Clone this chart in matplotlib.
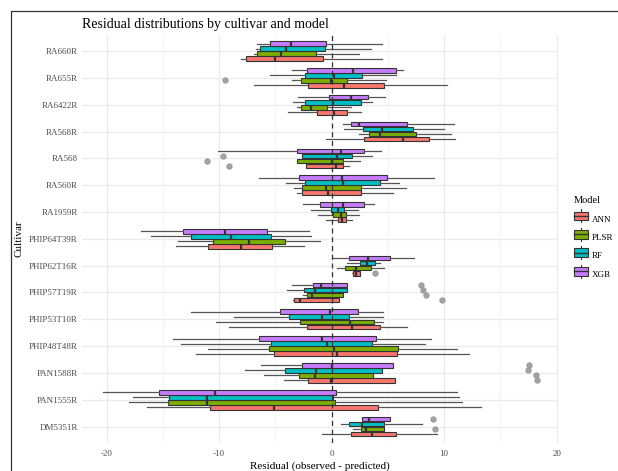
import matplotlib
matplotlib.use("Agg")
import matplotlib.pyplot as plt
from matplotlib.patches import Rectangle
from matplotlib.lines import Line2D
from matplotlib.legend_handler import HandlerBase
import numpy as np

plt.rcParams['font.family'] = ['Liberation Serif', 'DejaVu Serif']
plt.rcParams['axes.unicode_minus'] = False

# cultivars, top to bottom as shown
cultivars = ["RA660R", "RA655R", "RA6422R", "RA568R", "RA568", "RA560R", "RA1959R",
             "PHIP64T39R", "PHIP62T16R", "PHIP57T19R", "PHIP53T10R", "PHIP48T48R",
             "PAN1588R", "PAN1555R", "DM5351R"]
models = ["ANN", "PLSR", "RF", "XGB"]
colors = {"ANN": "#F8766D", "PLSR": "#7CAE00", "RF": "#00BFC4", "XGB": "#C77CFF"}

# box stats (residuals)
ann_lo  = [-8.09, -6.87, -3.85, -0.5, -2.28, -3.05, -0.5, -13.81, 1.78, -3.44, -9.10, -12.09, -4.24, -16.39, -0.9]
ann_q1  = [-7.61, -2.07, -1.33, 2.90, -2.28, -2.61, 0.53, -10.96, 1.93, -3.38, -2.16, -5.10, -2.13, -10.79, 1.72]
ann_med = [-5.04, 1.10, 0.20, 6.34, 0.41, -0.33, 0.92, -8.09, 2.15, -2.81, 1.78, 0.45, -0.02, -5.13, 3.56]
ann_q3  = [-0.80, 4.62, 1.33, 8.68, 1.04, 2.64, 1.27, -5.27, 2.55, 0.65, 4.27, 5.84, 5.63, 4.09, 5.75]
ann_hi  = [4.50, 10.22, 2.61, 10.99, 1.54, 5.48, 1.78, -2.43, 2.55, 0.65, 6.73, 12.21, 5.63, 13.27, 9.33]
ann_out = {"PHIP62T16R": [3.85], "RA568": [-9.16], "PHIP57T19R": [9.81], "PAN1588R": [18.28]}

plsr_lo  = [-6.87, -3.56, -3.11, 2.40, -3.05, -3.35, -1.19, -13.66, 0.44, -2.52, -10.28, -11.02, -6.01, -17.99, 1.93]
plsr_q1  = [-6.67, -2.70, -2.73, 3.35, -3.05, -2.61, 0.15, -10.52, 1.21, -2.16, -2.81, -5.54, -2.90, -14.55, 2.61]
plsr_med = [-4.50, -0.10, -1.87, 4.33, 0.07, -0.48, 0.80, -7.32, 2.13, -1.78, 1.63, 0.24, -1.50, -11.08, 3.05]
plsr_q3  = [-1.42, 1.39, -0.37, 7.53, 0.98, 2.64, 1.30, -4.18, 3.53, 0.98, 3.76, 5.93, 3.70, 0.28, 4.65]
plsr_hi  = [2.40, 4.80, 1.69, 10.64, 2.52, 6.58, 2.46, -1.01, 4.68, 0.98, 4.56, 11.11, 3.70, 11.59, 4.65]
plsr_out = {"RA655R": [-9.51], "RA568": [-11.11], "PHIP57T19R": [8.36], "PAN1588R": [18.16], "DM5351R": [9.19]}

rf_lo  = [-6.70, -5.48, -3.41, 1.10, -2.67, -4.09, -1.81, -16.03, 1.39, -3.94, -8.65, -13.36, -7.73, -17.69, 0.80]
rf_q1  = [-6.40, -2.37, -2.37, 2.76, -2.67, -2.37, -0.09, -12.50, 2.55, -2.49, -3.82, -5.42, -4.12, -14.43, 1.57]
rf_med = [-4.06, 0.18, 0.15, 4.44, 0.44, 0.98, 0.60, -8.95, 3.17, -1.48, -0.83, -0.39, -1.38, -11.05, 2.67]
rf_q3  = [-0.55, 2.73, 2.64, 7.20, 1.84, 4.33, 1.07, -5.39, 3.82, 1.33, 1.54, 3.56, 4.50, 0.12, 4.65]
rf_hi  = [3.47, 5.69, 3.56, 9.96, 3.56, 5.96, 2.37, -1.87, 4.30, 1.33, 4.56, 8.27, 4.50, 11.29, 8.03]
rf_out = {"RA568": [-9.63], "PHIP57T19R": [8.15], "PAN1588R": [17.42]}

xgb_lo  = [-6.67, -3.50, -3.02, 0.98, -10.13, -6.43, -2.52, -16.95, 0.03, -3.53, -12.53, -14.07, -6.31, -20.36, 2.70]
xgb_q1  = [-5.48, -2.19, -0.21, 1.69, -3.11, -2.90, -1.04, -13.24, 1.57, -1.63, -4.56, -6.43, -2.61, -15.35, 2.73]
xgb_med = [-3.61, 1.90, 1.69, 2.43, 0.86, 0.90, 1.00, -9.48, 3.26, -0.98, -0.12, -0.83, 0.06, -10.34, 3.35]
xgb_q3  = [-0.50, 5.75, 3.26, 6.67, 2.90, 4.95, 2.90, -5.78, 5.19, 1.33, 2.37, 3.94, 5.45, 0.40, 5.19]
xgb_hi  = [4.44, 6.31, 4.77, 10.84, 4.39, 9.07, 3.79, -2.04, 7.32, 1.33, 4.59, 8.80, 5.45, 11.14, 5.19]
xgb_out = {"PHIP57T19R": [7.91], "PAN1588R": [17.51], "DM5351R": [9.04]}

data = {
    "ANN": (ann_lo, ann_q1, ann_med, ann_q3, ann_hi, ann_out),
    "PLSR": (plsr_lo, plsr_q1, plsr_med, plsr_q3, plsr_hi, plsr_out),
    "RF": (rf_lo, rf_q1, rf_med, rf_q3, rf_hi, rf_out),
    "XGB": (xgb_lo, xgb_q1, xgb_med, xgb_q3, xgb_hi, xgb_out),
}

fig = plt.figure(figsize=(6.18, 4.71), dpi=100)
ax = fig.add_axes([0.1327, 0.0601, 0.7702, 0.8656])

n = len(cultivars)
ypos = np.arange(n, 0, -1)  # RA660R at top
offsets = {"ANN": -0.28125, "PLSR": -0.09375, "RF": 0.09375, "XGB": 0.28125}

for m in models:
    lo, q1, med, q3, hi, out = data[m]
    stats = []
    for i, c in enumerate(cultivars):
        stats.append(dict(whislo=lo[i], q1=q1[i], med=med[i], q3=q3[i], whishi=hi[i],
                          fliers=out.get(c, [])))
    ax.bxp(stats, positions=ypos + offsets[m], widths=0.172, vert=False,
           patch_artist=True, showcaps=False, manage_ticks=False,
           boxprops=dict(facecolor=colors[m], edgecolor="#333333", linewidth=0.8),
           medianprops=dict(color="#333333", linewidth=1.6),
           whiskerprops=dict(color="#555555", linewidth=0.9),
           flierprops=dict(marker="o", markersize=3.6, markerfacecolor="#9a9a9a",
                           markeredgecolor="#9a9a9a", alpha=0.9),
           zorder=3)

ax.axvline(0, color="#333333", linestyle=(0, (4, 3)), linewidth=0.9, zorder=4)

ax.set_xlim(-22.19, 20.12)
ax.set_ylim(0.4, n + 0.6)
ax.set_yticks(ypos)
ax.set_yticklabels(cultivars)
ax.set_xticks([-20, -10, 0, 10, 20])
ax.set_xticks([-15, -5, 5, 15], minor=True)
ax.grid(True, which="major", color="#ebebeb", linewidth=0.9, zorder=0)
ax.grid(True, which="minor", axis="x", color="#f2f2f2", linewidth=0.6, zorder=0)
ax.set_axisbelow(True)
for s in ax.spines.values():
    s.set_visible(False)
ax.tick_params(axis="both", which="both", length=0, labelsize=6.5, labelcolor="#4d4d4d")
ax.tick_params(axis="x", pad=5)
ax.tick_params(axis="y", pad=3)

ax.set_xlabel("Residual (observed - predicted)", fontsize=8, labelpad=3)
ax.set_ylabel("Cultivar", fontsize=8, labelpad=4)
ax.set_title("Residual distributions by cultivar and model", fontsize=10, loc="left",
             x=-0.0, pad=5)


class BoxKey(HandlerBase):
    def create_artists(self, legend, orig, x0, y0, w, h, fontsize, trans):
        fc = orig.get_facecolor()
        cx = x0 + w / 2
        v = Line2D([cx, cx], [y0 - 0.25 * h, y0 + 1.25 * h], color="#333333", lw=0.8, transform=trans)
        r = Rectangle((x0, y0), w, h, facecolor=fc, edgecolor="#333333", lw=0.8, transform=trans)
        mline = Line2D([x0, x0 + w], [y0 + h / 2, y0 + h / 2], color="#333333", lw=1.0, transform=trans)
        return [v, r, mline]


handles = [Rectangle((0, 0), 1, 1, facecolor=colors[m]) for m in models]
leg = fig.legend(handles, models, title="Model", loc="upper left",
                 bbox_to_anchor=(566 / 618, 1 - 188 / 471), frameon=False,
                 fontsize=6.5, title_fontsize=7.5, handlelength=1.5, handleheight=1.1,
                 labelspacing=1.0, handletextpad=0.5, alignment="left",
                 handler_map={Rectangle: BoxKey()})

# outer border (only left/top edges fall inside the image)
fig.add_artist(Rectangle((11 / 618, -0.2), 1.5, 1.2 - 11 / 471, transform=fig.transFigure,
                         fill=False, edgecolor="#333333", linewidth=0.9))

fig.savefig("out.png", dpi=100)
